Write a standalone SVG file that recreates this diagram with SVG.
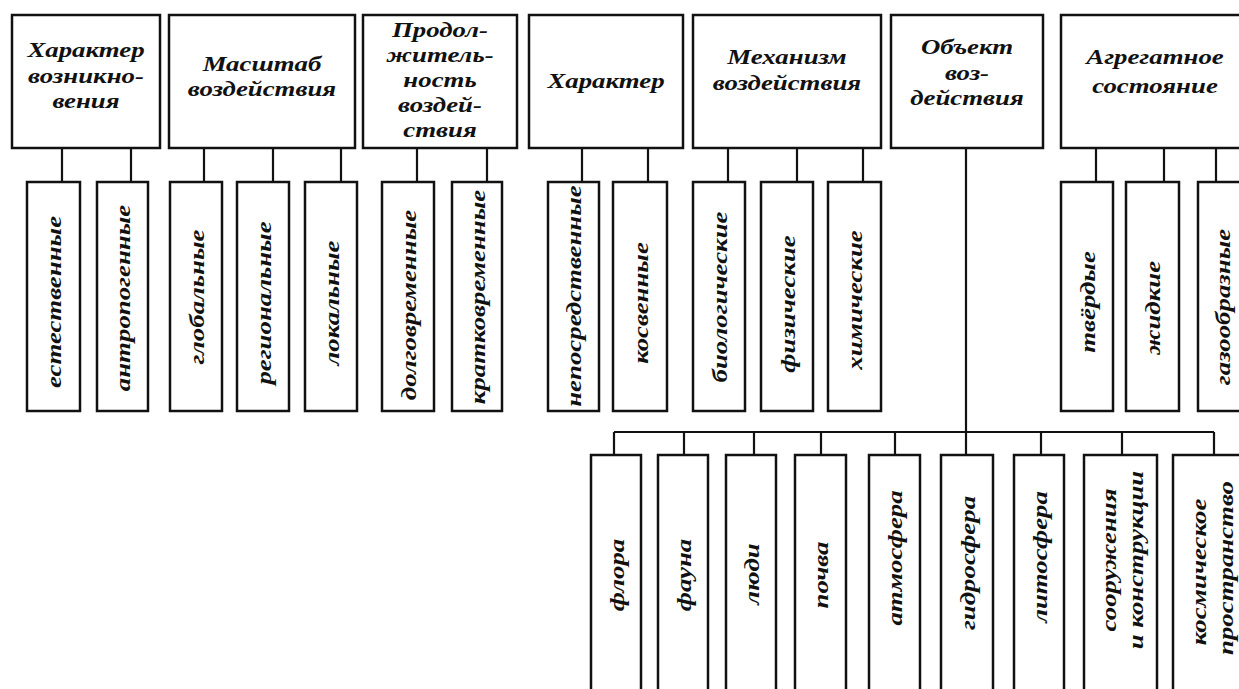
<svg xmlns="http://www.w3.org/2000/svg" width="1239" height="689" viewBox="0 0 1239 689">
<style>
.box{fill:#fff;stroke:#111;stroke-width:2.5}
.con{fill:none;stroke:#111;stroke-width:2.2}
text{font-family:"Liberation Serif","Times New Roman",serif;font-weight:bold;font-style:italic;fill:#111;font-size:22px;text-anchor:middle}
</style>
<rect width="1239" height="689" fill="#fff"/>
<g id="connectors">
<path class="con" d="M62 148V182M131 148V182M204 148V182M273 148V182M341 148V182M417 148V182M487 148V182M582 148V182M648 148V182M728 148V182M797 148V182M863 148V182M1096 148V182M1164 148V182M1216 148V182"/>
<path class="con" d="M966 148V432M614 432H1214M614 432V455M684 432V455M754 432V455M821 432V455M895 432V455M966 432V455M1041 432V455M1122 432V455M1214 432V455"/>
</g>
<g id="n1"><rect class="box" x="12" y="15" width="148" height="133"/><text transform="translate(86 57) scale(1.22 1)">Характер</text><text transform="translate(86 83) scale(1.22 1)">возникно-</text><text transform="translate(86 108) scale(1.22 1)">вения</text></g>
<g id="n2"><rect class="box" x="169" y="15" width="186" height="133"/><text transform="translate(262 71) scale(1.22 1)">Масштаб</text><text transform="translate(262 96) scale(1.22 1)">воздействия</text></g>
<g id="n3"><rect class="box" x="363" y="15" width="154" height="133"/><text transform="translate(440 37) scale(1.22 1)">Продол-</text><text transform="translate(440 62) scale(1.22 1)">житель-</text><text transform="translate(440 87) scale(1.22 1)">ность</text><text transform="translate(440 112) scale(1.22 1)">воздей-</text><text transform="translate(440 137) scale(1.22 1)">ствия</text></g>
<g id="n4"><rect class="box" x="529" y="15" width="154" height="133"/><text transform="translate(606 88) scale(1.22 1)">Характер</text></g>
<g id="n5"><rect class="box" x="693" y="15" width="188" height="133"/><text transform="translate(787 64) scale(1.22 1)">Механизм</text><text transform="translate(787 90) scale(1.22 1)">воздействия</text></g>
<g id="n6"><rect class="box" x="891" y="15" width="152" height="133"/><text transform="translate(967 54) scale(1.22 1)">Объект</text><text transform="translate(967 80) scale(1.22 1)">воз-</text><text transform="translate(967 105) scale(1.22 1)">действия</text></g>
<g id="n7"><rect class="box" x="1061" y="15" width="190" height="133"/><text transform="translate(1155 64) scale(1.22 1)">Агрегатное</text><text transform="translate(1155 93) scale(1.22 1)">состояние</text></g>

<g id="s1"><rect class="box" x="27" y="182" width="53" height="229"/><text transform="translate(53.5 302) rotate(-90) scale(1.22 1)" y="7.5">естественные</text></g>
<g id="s2"><rect class="box" x="97" y="182" width="51" height="229"/><text transform="translate(122.5 298) rotate(-90) scale(1.22 1)" y="7.5">антропогенные</text></g>
<g id="s3"><rect class="box" x="170" y="182" width="52" height="229"/><text transform="translate(196 297) rotate(-90) scale(1.22 1)" y="7.5">глобальные</text></g>
<g id="s4"><rect class="box" x="237" y="182" width="52" height="229"/><text transform="translate(263 303) rotate(-90) scale(1.22 1)" y="7.5">региональные</text></g>
<g id="s5"><rect class="box" x="305" y="182" width="52" height="229"/><text transform="translate(331 303) rotate(-90) scale(1.22 1)" y="7.5">локальные</text></g>
<g id="s6"><rect class="box" x="382" y="182" width="52" height="229"/><text transform="translate(408 305) rotate(-90) scale(1.22 1)" y="7.5">долговременные</text></g>
<g id="s7"><rect class="box" x="452" y="182" width="50" height="229"/><text transform="translate(477 297) rotate(-90) scale(1.22 1)" y="7.5">кратковременные</text></g>
<g id="s8"><rect class="box" x="548" y="182" width="51" height="229"/><text transform="translate(573.5 296) rotate(-90) scale(1.22 1)" y="7.5">непосредственные</text></g>
<g id="s9"><rect class="box" x="613" y="182" width="54" height="229"/><text transform="translate(640 303) rotate(-90) scale(1.22 1)" y="7.5">косвенные</text></g>
<g id="s10"><rect class="box" x="693" y="182" width="52" height="229"/><text transform="translate(719 297) rotate(-90) scale(1.22 1)" y="7.5">биологические</text></g>
<g id="s11"><rect class="box" x="761" y="182" width="52" height="229"/><text transform="translate(787 304) rotate(-90) scale(1.22 1)" y="7.5">физические</text></g>
<g id="s12"><rect class="box" x="828" y="182" width="53" height="229"/><text transform="translate(854.5 300) rotate(-90) scale(1.22 1)" y="7.5">химические</text></g>
<g id="s13"><rect class="box" x="1061" y="182" width="52" height="229"/><text transform="translate(1087 302) rotate(-90) scale(1.22 1)" y="7.5">твёрдые</text></g>
<g id="s14"><rect class="box" x="1126" y="182" width="53" height="229"/><text transform="translate(1152.5 308) rotate(-90) scale(1.22 1)" y="7.5">жидкие</text></g>
<g id="s15"><rect class="box" x="1198" y="182" width="50" height="229"/><text transform="translate(1222 307) rotate(-90) scale(1.22 1)" y="7.5">газообразные</text></g>

<g id="o1"><rect class="box" x="591" y="455" width="50" height="250"/><text transform="translate(616 575) rotate(-90) scale(1.22 1)" y="7.5">флора</text></g>
<g id="o2"><rect class="box" x="658" y="455" width="50" height="250"/><text transform="translate(683 575) rotate(-90) scale(1.22 1)" y="7.5">фауна</text></g>
<g id="o3"><rect class="box" x="726" y="455" width="50" height="250"/><text transform="translate(751 574) rotate(-90) scale(1.22 1)" y="7.5">люди</text></g>
<g id="o4"><rect class="box" x="795" y="455" width="51" height="250"/><text transform="translate(820 575) rotate(-90) scale(1.22 1)" y="7.5">почва</text></g>
<g id="o5"><rect class="box" x="869" y="455" width="51" height="250"/><text transform="translate(894 558) rotate(-90) scale(1.22 1)" y="7.5">атмосфера</text></g>
<g id="o6"><rect class="box" x="941" y="455" width="52" height="250"/><text transform="translate(967 563) rotate(-90) scale(1.22 1)" y="7.5">гидросфера</text></g>
<g id="o7"><rect class="box" x="1014" y="455" width="50" height="250"/><text transform="translate(1039 557) rotate(-90) scale(1.22 1)" y="7.5">литосфера</text></g>
<g id="o8"><rect class="box" x="1084" y="455" width="73" height="250"/><text transform="translate(1108 560) rotate(-90) scale(1.22 1)" y="7.5">сооружения</text><text transform="translate(1135 560) rotate(-90) scale(1.22 1)" y="7.5">и конструкции</text></g>
<g id="o9"><rect class="box" x="1173" y="455" width="80" height="250"/><text transform="translate(1198 572) rotate(-90) scale(1.22 1)" y="7.5">космическое</text><text transform="translate(1225 568) rotate(-90) scale(1.22 1)" y="7.5">пространство</text></g>
</svg>
